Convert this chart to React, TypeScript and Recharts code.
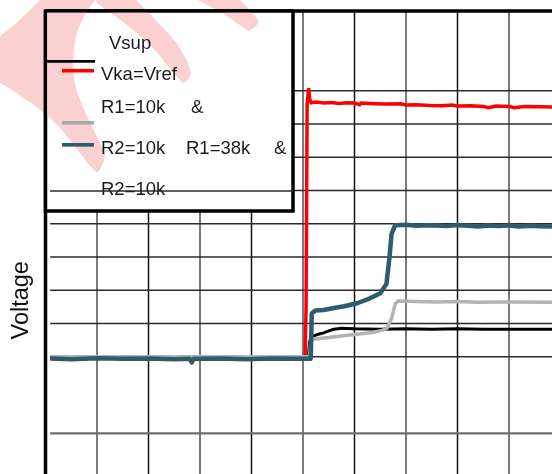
import React from 'react';
import { LineChart, Line, XAxis, YAxis, ReferenceLine, Legend } from 'recharts';

const FONT = '"Liberation Sans", Arial, Helvetica, sans-serif';

// Time in scope divisions, voltage in scope divisions
const vsupPoints: [number, number][] = [
  [0.09, 0], [2, 0], [4, 0], [5.1, 0], [5.13, 0.45], [5.16, 0.6], [5.3, 0.68], [5.4, 0.72],
  [5.5, 0.78], [5.6, 0.83], [5.75, 0.86], [6.0, 0.84], [6.5, 0.83], [7.0, 0.84], [7.5, 0.83],
  [8.0, 0.84], [8.5, 0.83], [9.0, 0.83], [9.5, 0.83], [12, 0.83],
];

const vkaPoints: [number, number][] = [
  [0.09, 0.0], [0.8, -0.01], [1.6, 0.0], [2.4, -0.01], [3.2, 0.0], [4.0, -0.01], [4.8, 0.0],
  [5.04, 0.0], [5.06, 1.5], [5.08, 7.6], [5.11, 8.08], [5.13, 7.75], [5.16, 7.64], [5.25, 7.66],
  [5.4, 7.63], [5.55, 7.65], [5.7, 7.62], [5.85, 7.64], [6.0, 7.63], [6.1, 7.58], [6.13, 7.63],
  [6.4, 7.61], [6.6, 7.6], [6.9, 7.61], [7.0, 7.57], [7.2, 7.58], [7.45, 7.56], [7.7, 7.55],
  [7.9, 7.57], [8.0, 7.54], [8.25, 7.55], [8.5, 7.53], [8.6, 7.49], [8.75, 7.54], [9.0, 7.53],
  [9.1, 7.49], [9.3, 7.53], [9.6, 7.52], [9.85, 7.51], [12, 7.5],
];

const r10kPoints: [number, number][] = [
  [0.09, 0], [3, 0], [5.12, 0], [5.15, 0.4], [5.19, 0.53], [5.5, 0.58], [5.95, 0.66],
  [6.35, 0.73], [6.55, 0.8], [6.63, 0.86], [6.72, 1.15], [6.79, 1.6], [6.85, 1.68], [7.2, 1.66],
  [7.6, 1.65], [8.0, 1.66], [8.4, 1.64], [8.8, 1.65], [9.2, 1.65], [9.8, 1.64], [12, 1.64],
];

const r38kPoints: [number, number][] = [
  [0.09, -0.05], [0.5, -0.07], [1.0, -0.04], [1.5, -0.06], [2.0, -0.05], [2.5, -0.07],
  [2.8, -0.06], [2.84, -0.17], [2.88, -0.06], [3.4, -0.05], [3.9, -0.07], [4.4, -0.05],
  [4.9, -0.06], [5.15, -0.06], [5.17, 1.3], [5.24, 1.39], [5.4, 1.41], [5.6, 1.47], [5.8, 1.52],
  [6.05, 1.61], [6.3, 1.76], [6.5, 1.91], [6.62, 2.19], [6.68, 3.0], [6.72, 3.7], [6.79, 3.96],
  [7.0, 3.97], [7.2, 3.94], [7.4, 3.96], [7.6, 3.95], [7.8, 3.93], [8.0, 3.96], [8.2, 3.94],
  [8.4, 3.92], [8.6, 3.95], [8.8, 3.93], [9.0, 3.95], [9.2, 3.92], [9.4, 3.94], [9.6, 3.93],
  [9.85, 3.92], [12, 3.92],
];

const gridXValues = [1, 2, 3, 4, 5, 6, 7, 8, 9, 10];
const gridYValues = [8, 7, 6, 5, 4, 3, 2, 1, 0];
const gridYLower = -2.3;

const X_DOMAIN: [number, number] = [0, 12];
const Y_DOMAIN: [number, number] = [-7, 10.4];

const toData = (pts: [number, number][]) => pts.map(([t, v]) => ({ t, v }));

const vsupData = toData(vsupPoints);
const vkaData = toData(vkaPoints);
const r10kData = toData(r10kPoints);
const r38kData = toData(r38kPoints);

const COLORS = {
  vsup: '#000000',
  vka: '#ff0000',
  r10k: '#b3b3b3',
  r38k: '#2e5b6f',
};

const WATERMARK_PATHS = [
  'M40,0 L95,0 C84,14 77,28 75,42 C72,62 72,80 80,100 C88,120 100,140 105,155 C104,164 100,170 97,173 C92,168 88,164 86,161 C78,150 70,140 62,130 C50,117 30,100 0,83 L0,36 C12,28 26,14 40,0 Z',
  'M95,0 L136,0 C150,14 163,27 174,40 C182,50 188,62 191,72 C190,78 187,82 183,83 C176,76 168,66 160,56 C148,42 132,28 112,14 C104,9 98,4 95,0 Z',
  'M198,0 L240,0 C248,8 255,15 259,22 C256,27 252,30 248,31 C236,22 222,12 198,0 Z',
];
const WATERMARK_COLOR = '#fbd0d0';

const LegendBox = () => (
  <svg width={300} height={216} style={{ display: 'block' }}>
    <defs>
      <clipPath id="legendInner">
        <rect x={47.25} y={12.75} width={244} height={196.5} />
      </clipPath>
    </defs>
    <rect x={45.5} y={11} width={247.5} height={200} fill="#fff" stroke="#000" strokeWidth={3.5} />
    <g clipPath="url(#legendInner)" fill={WATERMARK_COLOR}>
      {WATERMARK_PATHS.map((d, i) => (
        <path key={i} d={d} />
      ))}
    </g>
    <line x1={47} y1={61.3} x2={95} y2={61.3} stroke={COLORS.vsup} strokeWidth={2.8} />
    <line x1={62} y1={70.7} x2={94} y2={70.7} stroke={COLORS.vka} strokeWidth={3.6} />
    <line x1={62} y1={122.8} x2={94} y2={122.8} stroke="#aaaaaa" strokeWidth={3.7} />
    <line x1={62} y1={144.8} x2={94} y2={144.8} stroke={COLORS.r38k} strokeWidth={3.7} />
    <g fontFamily={FONT} fontSize={18.5} fill="#1a1a1a">
      <text x={109} y={49}>Vsup</text>
      <text x={101} y={80}>Vka=Vref</text>
      <text x={101} y={113}>R1=10k</text>
      <text x={191} y={113}>&amp;</text>
      <text x={101} y={154}>R2=10k</text>
      <text x={186} y={154}>R1=38k</text>
      <text x={274} y={154}>&amp;</text>
      <text x={101} y={195}>R2=10k</text>
    </g>
    <line x1={50} y1={191} x2={293} y2={191} stroke="#2a2a2a" strokeWidth={1.6} />
  </svg>
);

const VoltageLabel = (props: any) => {
  const vb = props && props.viewBox ? props.viewBox : { x: 0, y: 11, width: 45.5, height: 578.5 };
  const bx = vb.x + 28.4;
  const cy = vb.y + vb.height / 2;
  return (
    <text
      transform={`translate(${bx},${cy}) rotate(-90)`}
      textAnchor="middle"
      fontFamily={FONT}
      fontSize={23.5}
      fill="#111"
    >
      Voltage
    </text>
  );
};

const Watermark = () => (
  <svg
    width={552}
    height={474}
    style={{
      position: 'absolute',
      left: 0,
      top: 0,
      zIndex: 10,
      pointerEvents: 'none',
      mixBlendMode: 'multiply',
    }}
  >
    <defs>
      <clipPath id="outsideLegend">
        <path clipRule="evenodd" d="M0,0 H552 V474 H0 Z M47.25,12.75 H291.25 V209.25 H47.25 Z" />
      </clipPath>
    </defs>
    <g fill={WATERMARK_COLOR} stroke="none" clipPath="url(#outsideLegend)">
      {WATERMARK_PATHS.map((d, i) => (
        <path key={i} d={d} />
      ))}
    </g>
  </svg>
);

export default function App() {
  return (
    <div
      style={{
        position: 'absolute',
        left: 0,
        top: 0,
        width: 552,
        height: 474,
        overflow: 'hidden',
        background: '#fff',
      }}
    >
      <LineChart width={664} height={600} margin={{ top: 11, right: 0.5, bottom: 10.45, left: 0 }}>
        <XAxis type="number" dataKey="t" domain={X_DOMAIN} hide allowDataOverflow />
        <YAxis
          type="number"
          dataKey="v"
          domain={Y_DOMAIN}
          width={45.5}
          tick={false}
          tickLine={false}
          axisLine={false}
          allowDataOverflow
          label={(p: any) => <VoltageLabel {...p} />}
        />
        {gridXValues.map((x) => (
          <ReferenceLine
            key={`gx${x}`}
            x={x}
            stroke={x % 2 === 1 ? '#7a7a7a' : '#111111'}
            strokeWidth={x % 2 === 1 ? 2 : 1.5}
            zIndex={-50}
          />
        ))}
        {gridYValues.map((y) => (
          <ReferenceLine
            key={`gy${y}`}
            segment={[{ x: 0.09, y }, { x: 12, y }]}
            stroke="#2a2a2a"
            strokeWidth={1.6}
            zIndex={-50}
          />
        ))}
        <ReferenceLine
          segment={[{ x: 0.09, y: gridYLower }, { x: 12, y: gridYLower }]}
          stroke="#6e6e6e"
          strokeWidth={2.2}
          zIndex={-50}
        />
        <ReferenceLine y={Y_DOMAIN[1]} stroke="#000" strokeWidth={3.5} zIndex={-40} />
        <ReferenceLine x={X_DOMAIN[0]} stroke="#000" strokeWidth={3.5} zIndex={-40} />
        <Line
          data={vkaData}
          dataKey="v"
          name="Vka=Vref"
          type="linear"
          stroke={COLORS.vka}
          strokeWidth={3.5}
          dot={false}
          isAnimationActive={false}
        />
        <Line
          data={vsupData}
          dataKey="v"
          name="Vsup"
          type="linear"
          stroke={COLORS.vsup}
          strokeWidth={3}
          dot={false}
          isAnimationActive={false}
        />
        <Line
          data={r10kData}
          dataKey="v"
          name="R1=10k & R2=10k"
          type="linear"
          stroke={COLORS.r10k}
          strokeWidth={3.5}
          dot={false}
          isAnimationActive={false}
        />
        <Line
          data={r38kData}
          dataKey="v"
          name="R1=38k & R2=10k"
          type="linear"
          stroke={COLORS.r38k}
          strokeWidth={4.5}
          strokeLinejoin="round"
          dot={false}
          isAnimationActive={false}
        />
        <Legend
          layout="vertical"
          align="center"
          verticalAlign="middle"
          content={() => <LegendBox />}
          wrapperStyle={{ position: 'absolute', left: 0, top: 0, width: 300, height: 216, margin: 0, padding: 0 }}
        />
      </LineChart>
      <Watermark />
    </div>
  );
}
